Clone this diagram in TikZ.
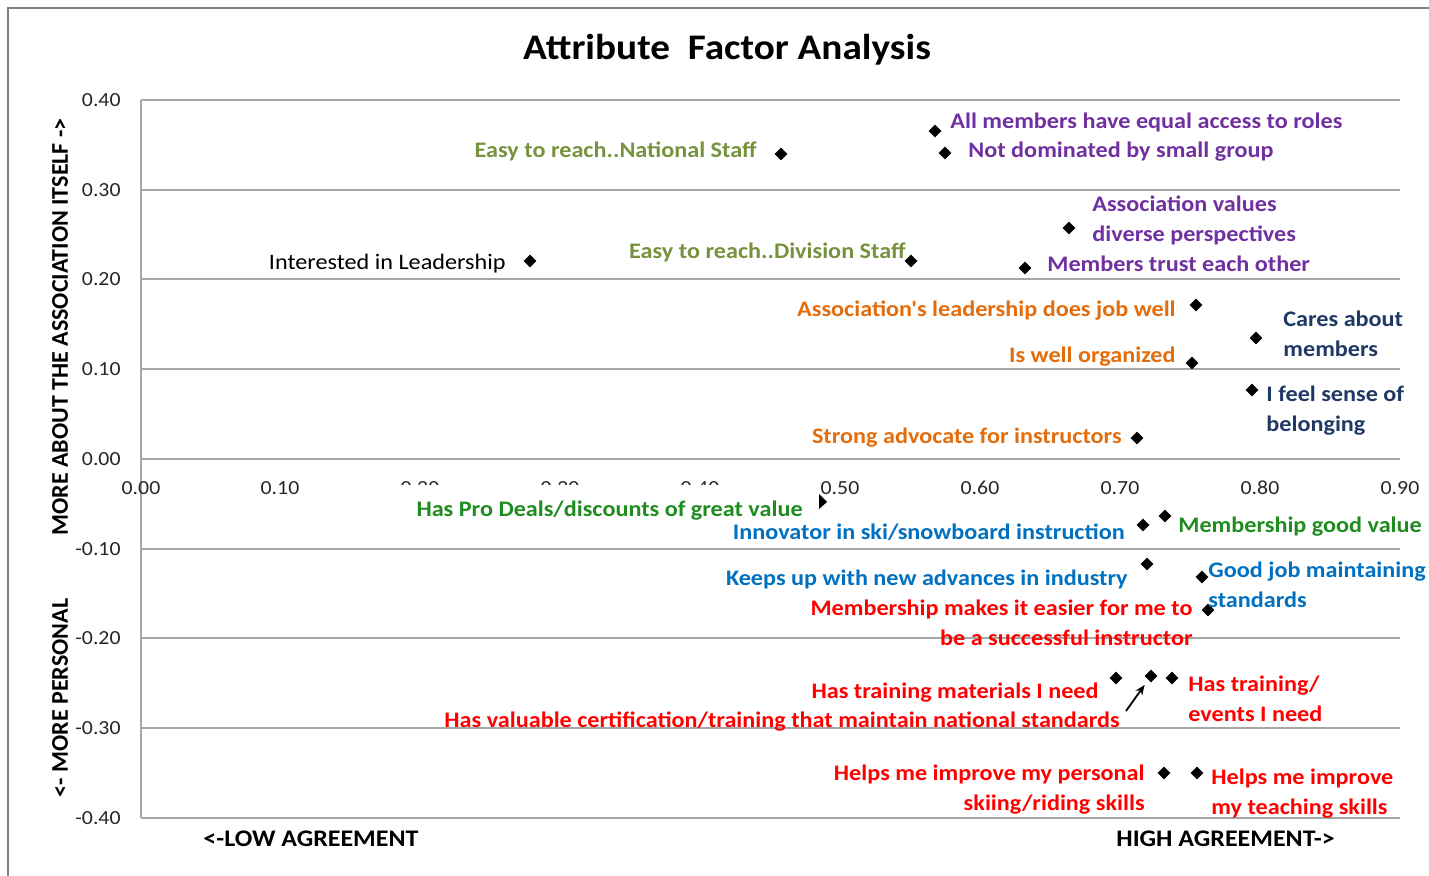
\documentclass[tikz,border=0pt]{standalone}
\usepackage{fontspec}
\setmainfont{Carlito}
\newfontfamily\wide[FakeStretch=1.09]{Carlito}
\usetikzlibrary{shapes.geometric,arrows.meta}
\definecolor{olive}{HTML}{76923C}
\definecolor{purp}{HTML}{7030A0}
\definecolor{orng}{HTML}{E46C0A}
\definecolor{navy}{HTML}{1F3864}
\definecolor{grn}{HTML}{1E8C1E}
\definecolor{blu}{HTML}{0070C0}
\definecolor{rd}{HTML}{FF0000}
\definecolor{gridc}{HTML}{A6A6A6}
\newcommand\lblfont{\wide\fontsize{11.1}{15}\selectfont\bfseries}
\newcommand\tickfont{\wide\fontsize{10}{11}\selectfont}
\tikzset{
  lbl/.style={font=\lblfont, inner sep=0},
  tick/.style={font=\tickfont, inner sep=0, text=black!85},
  mk/.style={diamond, fill=black, inner sep=0, minimum size=6.5pt},
  grid line/.style={draw=gridc, line width=0.6pt},
  axt/.style={font=\wide\fontsize{11.9}{13}\selectfont\bfseries, inner sep=0},
  axv/.style={font=\fontsize{12}{13}\selectfont\bfseries, inner sep=0, rotate=90}
}
\begin{document}
\begin{tikzpicture}[x=0.5pt,y=-0.5pt]
\useasboundingbox (0,0) rectangle (1429,876);
% outer frame
\draw[gray, line width=0.8pt] (8,876) -- (8,8) -- (1429,8);
% title
\node[font=\wide\fontsize{18}{21}\selectfont\bfseries, inner sep=0] (title) at (727,50) {Attribute\ \ Factor Analysis};
% grid
\foreach \v/\yy in {0.40/100,0.30/190,0.20/279,0.10/369,0.00/459,-0.10/549,-0.20/638,-0.30/728,-0.40/818} {
  \draw[grid line] (141,\yy) -- (1400,\yy);
  \node[tick, anchor=east] (yt\yy) at (121,\yy) {\v};
}
\draw[grid line] (141,100) -- (141,818);
% x tick labels
\foreach \v/\xx in {0.00/141,0.10/280,0.50/840,0.60/980,0.70/1120,0.80/1260,0.90/1400} {
  \node[tick] (xt\xx) at (\xx,488) {\v};
}
\begin{scope}
\clip (380,470) rectangle (740,485);
\foreach \v/\xx in {0.20/420,0.30/560,0.40/700} {
  \node[tick] (xh\xx) at (\xx,488) {\v};
}
\end{scope}
% axis titles
\node[axv] (ytop) at (60,327) {MORE ABOUT THE ASSOCIATION ITSELF ->};
\node[axv] (ybot) at (60,698) {<- MORE PERSONAL};
\node[axt, anchor=base west] (xlow) at (203,846) {<-LOW AGREEMENT};
\node[axt, anchor=base west] (xhigh) at (1116,846) {HIGH AGREEMENT->};
% markers
\node[mk] (m1) at (781,154) {};
\node[mk] (m2) at (935,131) {};
\node[mk] (m3) at (945,153) {};
\node[mk] (m4) at (530,261) {};
\node[mk] (m5) at (911,261) {};
\node[mk] (m6) at (1069,228) {};
\node[mk] (m7) at (1025,268) {};
\node[mk] (m8) at (1196,305) {};
\node[mk] (m9) at (1256,338) {};
\node[mk] (m10) at (1192,363) {};
\node[mk] (m11) at (1252,390) {};
\node[mk] (m12) at (1137,438) {};
\coordinate (m13) at (822,502);
\fill (m13) ++(-3,-8) -- ++(8,8) -- ++(-8,7) -- cycle;
\node[mk] (m14) at (1143,525) {};
\node[mk] (m15) at (1165,516) {};
\node[mk] (m16) at (1147,564) {};
\node[mk] (m17) at (1202,577) {};
\node[mk] (m18) at (1208,610) {};
\node[mk] (m19) at (1116,678) {};
\node[mk] (m20) at (1151,676) {};
\node[mk] (m21) at (1172,678) {};
\node[mk] (m22) at (1164,773) {};
\node[mk] (m23) at (1197,773) {};
% arrow
\coordinate (arrs) at (1126,711);
\draw[-{Stealth[length=5pt,width=4pt]}, line width=0.9pt, shorten >=3pt] (arrs) -- (m20);
% labels
\node[lbl, text=olive, anchor=base east] (l1) at (757,158) {Easy to reach..National Staff};
\node[lbl, text=purp, anchor=base west] (l2) at (950,129) {All members have equal access to roles};
\node[lbl, text=purp, anchor=base west] (l3) at (968,158) {Not dominated by small group};
\node[lbl, text=black, font=\wide\fontsize{11.1}{15}\selectfont, anchor=base east] (l4) at (506,270) {Interested in Leadership};
\node[lbl, text=olive, anchor=base east] (l5) at (906,259) {Easy to reach..Division Staff};
\node[lbl, text=purp, anchor=base west, align=left] (l6) at (1092,242) {Association values\\diverse perspectives};
\node[lbl, text=purp, anchor=base west] (l7) at (1047,272) {Members trust each other};
\node[lbl, text=orng, anchor=base east] (l8) at (1176,317) {Association's leadership does job well};
\node[lbl, text=navy, anchor=base west, align=left] (l9) at (1283,357) {Cares about\\members};
\node[lbl, text=orng, anchor=base east] (l10) at (1176,363) {Is well organized};
\node[lbl, text=navy, anchor=base west, align=left] (l11) at (1266,432) {I feel sense of\\belonging};
\node[lbl, text=orng, anchor=base east] (l12) at (1122,444) {Strong advocate for instructors};
\node[lbl, text=grn, anchor=base east] (l13) at (803,517) {Has Pro Deals/discounts of great value};
\node[lbl, text=blu, anchor=base east] (l14) at (1125,540) {Innovator in ski/snowboard instruction};
\node[lbl, text=grn, anchor=base west] (l15) at (1178,533) {Membership good value};
\node[lbl, text=blu, anchor=base east] (l16) at (1128,586) {Keeps up with new advances in industry};
\node[lbl, text=blu, anchor=base west, align=left] (l17) at (1208,607) {Good job maintaining\\standards};
\node[lbl, text=rd, anchor=base east, align=right] (l18) at (1193,645) {Membership makes it easier for me to\\be a successful instructor};
\node[lbl, text=rd, anchor=base east] (l19) at (1099,698) {Has training materials I need};
\node[lbl, text=rd, anchor=base east] (l20) at (1120,727) {Has valuable certification/training that maintain national standards};
\node[lbl, text=rd, anchor=base west, align=left] (l21) at (1188,721) {Has training/\\events I need};
\node[lbl, text=rd, anchor=base east, align=right] (l22) at (1145,810) {Helps me improve my personal\\skiing/riding skills};
\node[lbl, text=rd, anchor=base west, align=left] (l23) at (1211,814) {Helps me improve\\my teaching skills};
\end{tikzpicture}
\end{document}
